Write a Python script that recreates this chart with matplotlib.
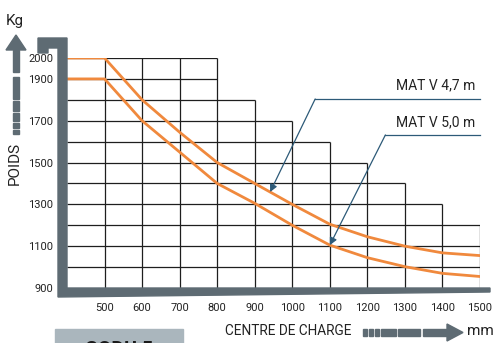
import matplotlib
matplotlib.use("Agg")
import matplotlib.pyplot as plt
from matplotlib.patches import Polygon, Rectangle
import numpy as np

plt.rcParams['font.family'] = ['Liberation Sans Narrow', 'Roboto', 'DejaVu Sans']

# centre de charge (mm) et capacité (kg)
centre = [400, 500, 600, 700, 800, 900, 1000, 1100, 1200, 1300, 1400, 1500]
mat_47 = [2000, 2000, 1800, 1645, 1500, 1400, 1300, 1205, 1145, 1100, 1068, 1055]
mat_50 = [1900, 1900, 1700, 1550, 1400, 1305, 1200, 1105, 1045, 1002, 970, 955]

# hauteur de la grille en escalier, une valeur par colonne de 100 mm
col_edges = [400, 500, 600, 700, 800, 900, 1000, 1100, 1200, 1300, 1400, 1500]
col_tops = [2000, 2000, 2000, 2000, 1800, 1700, 1600, 1500, 1400, 1300, 1200]
levels = [1000, 1100, 1200, 1300, 1400, 1500, 1600, 1700, 1800, 1900, 2000]

xticks = [500, 600, 700, 800, 900, 1000, 1100, 1200, 1300, 1400, 1500]
yticks = [900, 1100, 1300, 1500, 1700, 1900, 2000]

ORANGE = '#f0893d'
GRIS = '#5e6b73'
BLEU = '#2d5a78'
W, H = 498, 343


def px(x, y):
    return (x / W, 1 - y / H)


fig = plt.figure(figsize=(W / 100, H / 100), dpi=100)
ax = fig.add_axes([67 / W, 55 / H, 413 / W, 230 / H])
ax.set_xlim(400, 1500)
ax.set_ylim(900, 2000)
for s in ax.spines.values():
    s.set_visible(False)

# grille en escalier
for i, x in enumerate(col_edges[1:], start=1):
    top = max(col_tops[i - 1], col_tops[i] if i < len(col_tops) else 0)
    ax.vlines(x, 900, top, color='#1e1e1e', lw=0.9, zorder=1)
for lv in levels:
    right = max(col_edges[i + 1] for i, t in enumerate(col_tops) if t >= lv)
    ax.hlines(lv, 400, right, color='#1e1e1e', lw=0.9, zorder=1)

ax.plot(centre, mat_47, color=ORANGE, lw=2, zorder=3, solid_joinstyle='round')
ax.plot(centre, mat_50, color=ORANGE, lw=2, zorder=3, solid_joinstyle='round')

ax.set_xticks(xticks)
ax.set_yticks(yticks)
ax.tick_params(length=0, labelsize=8, colors='#222222')
ax.tick_params(axis='x', pad=11)
ax.tick_params(axis='y', pad=10)

# repères des mâts
labels = [('MAT V 4,7 m', mat_47, 941, 1061, 1804, 1871),
          ('MAT V 5,0 m', mat_50, 1100, 1248, 1632, 1694)]
for txt, serie, tip_x, knee_x, knee_y, txt_y in labels:
    tip_y = np.interp(tip_x, centre, serie)
    ax.plot([knee_x, 1500], [knee_y, knee_y], color=BLEU, lw=0.9, clip_on=False, zorder=4)
    ax.annotate('', xy=(tip_x, tip_y), xytext=(knee_x, knee_y),
                arrowprops=dict(arrowstyle='-|>', color=BLEU, lw=0.9,
                                mutation_scale=11, shrinkA=0, shrinkB=0), zorder=4)
    ax.text(1488, txt_y, txt, ha='right', va='center', fontsize=10, color='#222222')

# cadre gris
cadre = [(38, 38), (67, 38), (67, 288), (490, 288), (490, 292), (58, 297),
         (58, 48), (48, 48), (48, 53), (38, 53)]
fig.add_artist(Polygon([px(*p) for p in cadre], closed=True, color=GRIS,
                       transform=fig.transFigure, zorder=5))

# flèche verticale POIDS
fig.add_artist(Polygon([px(16, 35), px(6, 50), px(26, 50)], color=GRIS,
                       transform=fig.transFigure))
for y0, y1 in [(50, 72), (77, 99), (101, 111), (113, 121), (123, 128), (130, 134)]:
    fig.add_artist(Rectangle(px(13, y1), 6 / W, (y1 - y0) / H, color=GRIS,
                             transform=fig.transFigure))
fig.text(*px(15, 21), 'Kg', ha='center', va='center', fontsize=11, color='#222222')
fig.text(*px(15, 163), 'POIDS', ha='center', va='center', rotation=90,
         fontsize=11, color='#222222')

# flèche horizontale CENTRE DE CHARGE
fig.text(*px(225, 331), 'CENTRE DE CHARGE', ha='left', va='center',
         fontsize=9.8, color='#222222')
for x0, x1 in [(363, 367), (369, 373), (375, 379), (381, 396), (398, 420), (423, 448)]:
    fig.add_artist(Rectangle(px(x0, 336), (x1 - x0) / W, 7 / H, color=GRIS,
                             transform=fig.transFigure))
fig.add_artist(Polygon([px(447, 324), px(463, 332.5), px(447, 341)], color=GRIS,
                       transform=fig.transFigure))
fig.text(*px(480, 331), 'mm', ha='center', va='center', fontsize=11, color='#222222')

# encart du modèle en bas à gauche
fig.add_artist(Rectangle(px(55, 343), 128 / W, 14 / H, color='#aab6bd',
                         transform=fig.transFigure))
fig.text(*px(119, 340), 'CODU 5', ha='center', va='top', fontsize=14,
         fontweight='bold', color='#1a1a1a')

fig.savefig('out.png', dpi=100)
